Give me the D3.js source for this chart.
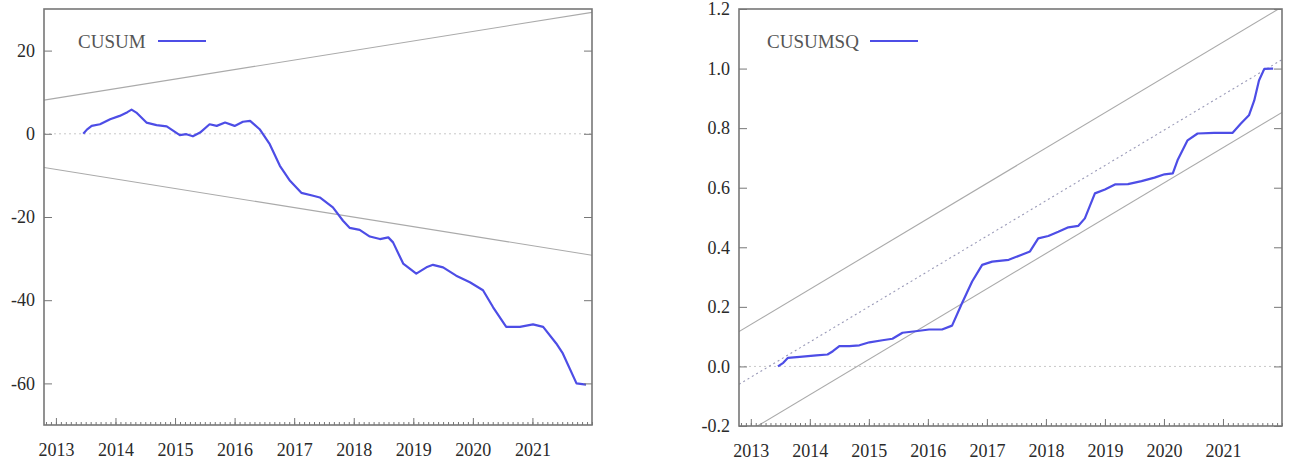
<!DOCTYPE html>
<html>
<head>
<meta charset="utf-8">
<script src="https://cdn.jsdelivr.net/npm/d3@7"></script>
<style>
body { margin: 0; background: #fff; }
svg text { font-family: "Liberation Serif", "Times New Roman", serif !important; }
</style>
</head>
<body>
<script>
// decimal years
let cusumYears = [2013.46, 2013.52, 2013.60, 2013.74, 2013.91, 2014.07, 2014.20, 2014.27, 2014.35, 2014.52,
  2014.69, 2014.86, 2015.08, 2015.19, 2015.30, 2015.42, 2015.58, 2015.70, 2015.84, 2016.00,
  2016.14, 2016.26, 2016.42, 2016.59, 2016.76, 2016.93, 2017.12, 2017.32, 2017.43, 2017.65,
  2017.82, 2017.93, 2018.10, 2018.27, 2018.44, 2018.58, 2018.66, 2018.83, 2019.05, 2019.22,
  2019.33, 2019.50, 2019.72, 2019.95, 2020.17, 2020.34, 2020.56, 2020.79, 2021.01, 2021.18,
  2021.40, 2021.51, 2021.74, 2021.90]
let cusumValues = [0, 1.0, 1.9, 2.3, 3.5, 4.3, 5.2, 5.8, 5.1, 2.7,
  2.1, 1.8, -0.3, -0.1, -0.6, 0.3, 2.3, 1.9, 2.7, 1.9,
  2.9, 3.1, 1.1, -2.5, -7.7, -11.3, -14.2, -14.9, -15.3, -17.7,
  -20.9, -22.6, -23.1, -24.7, -25.3, -24.9, -26.1, -31.2, -33.6, -32.1,
  -31.5, -32.1, -34.1, -35.7, -37.6, -41.7, -46.4, -46.4, -45.8, -46.4,
  -50.4, -52.8, -60.0, -60.3]

let sqYears = [2013.46, 2013.55, 2013.63, 2013.83, 2014.11, 2014.30, 2014.39, 2014.50, 2014.67, 2014.84,
  2015.01, 2015.23, 2015.40, 2015.57, 2015.79, 2016.02, 2016.24, 2016.41, 2016.58, 2016.75,
  2016.92, 2017.09, 2017.37, 2017.59, 2017.73, 2017.87, 2018.04, 2018.21, 2018.38, 2018.55,
  2018.66, 2018.83, 2019.00, 2019.17, 2019.39, 2019.62, 2019.84, 2020.01, 2020.15, 2020.23,
  2020.40, 2020.57, 2020.85, 2021.16, 2021.30, 2021.44, 2021.53, 2021.61, 2021.70, 2021.85]
let sqValues = [0.000, 0.012, 0.029, 0.032, 0.037, 0.040, 0.051, 0.068, 0.068, 0.071,
  0.081, 0.088, 0.093, 0.113, 0.118, 0.124, 0.124, 0.137, 0.213, 0.285,
  0.341, 0.352, 0.358, 0.375, 0.386, 0.430, 0.438, 0.452, 0.467, 0.472,
  0.497, 0.581, 0.594, 0.611, 0.612, 0.622, 0.634, 0.645, 0.648, 0.692,
  0.759, 0.782, 0.784, 0.784, 0.815, 0.843, 0.893, 0.960, 0.999, 1.000]

// 5% significance lines, given at the two ends of the x range
let boundYears = [2012.8, 2022.0]
let cusumUpper = [8.1, 29.2]
let cusumLower = [-8.1, -29.2]
let sqUpper = [0.117, 1.207]
let sqMid = [-0.06, 1.03]
let sqLower = [-0.237, 0.853]

let yearTicks = [2013, 2014, 2015, 2016, 2017, 2018, 2019, 2020, 2021]
let cusumTicks = [-60, -40, -20, 0, 20]
let sqTicks = [-0.2, 0.0, 0.2, 0.4, 0.6, 0.8, 1.0, 1.2]

let monthTicks = d3.range(2012 * 12 + 10, 2022 * 12 + 1).map(m => m / 12)

let svg = d3.select("body")
.append("svg")
.attr("width", 1290)
.attr("height", 465)

function drawPanel(p) {
    let x = d3.scaleLinear().domain([2012.8, 2022.0]).range([p.left, p.right])
    let y = d3.scaleLinear().domain(p.yDomain).range([p.bottom, p.top])
    let g = svg.append("g")

    g.append("clipPath").attr("id", p.id)
    .append("rect")
    .attr("x", p.left).attr("y", p.top)
    .attr("width", p.right - p.left).attr("height", p.bottom - p.top)

    let plot = g.append("g").attr("clip-path", `url(#${p.id})`)

    // zero reference
    plot.append("line")
    .attr("x1", p.left).attr("x2", p.right)
    .attr("y1", y(0)).attr("y2", y(0))
    .attr("stroke", "#c8c8c8")
    .attr("stroke-dasharray", "2,3")

    let line = d3.line().x(d => x(d[0])).y(d => y(d[1]))

    p.bounds.forEach(b => {
        plot.append("path")
        .datum(boundYears.map((t, i) => [t, b.values[i]]))
        .attr("d", line)
        .attr("fill", "none")
        .attr("stroke", b.color)
        .attr("stroke-width", 1.1)
        .attr("stroke-dasharray", b.dash || null)
    })

    plot.append("path")
    .datum(p.years.map((t, i) => [t, p.values[i]]))
    .attr("d", line)
    .attr("fill", "none")
    .attr("stroke", "#4d4de6")
    .attr("stroke-width", 2.2)
    .attr("stroke-linejoin", "round")

    // axes, ticks pointing inward
    g.append("g")
    .attr("transform", `translate(0,${p.bottom})`)
    .call(d3.axisBottom(x).tickValues(yearTicks).tickFormat(d3.format("d")).tickSize(-7).tickPadding(18))
    g.append("g")
    .attr("transform", `translate(0,${p.bottom})`)
    .call(d3.axisBottom(x).tickValues(monthTicks).tickFormat("").tickSize(-3))

    g.append("g")
    .attr("transform", `translate(${p.left},0)`)
    .call(d3.axisLeft(y).tickValues(p.yTicks).tickFormat(p.yFormat).tickSize(-8).tickPadding(9))
    g.append("g")
    .attr("transform", `translate(${p.right},0)`)
    .call(d3.axisRight(y).tickValues(p.yTicks).tickFormat("").tickSize(-8))

    g.selectAll(".domain").remove()
    g.selectAll(".tick line").attr("stroke", "#777")
    g.selectAll(".tick text")
    .style("font-size", "18px")
    .attr("fill", "#2a2a2a")

    g.append("rect")
    .attr("x", p.left).attr("y", p.top)
    .attr("width", p.right - p.left).attr("height", p.bottom - p.top)
    .attr("fill", "none")
    .attr("stroke", "#777")
    .attr("stroke-width", 1.6)

    // legend
    g.append("text")
    .attr("x", p.legendX).attr("y", 48)
    .style("font-size", "19px")
    .attr("fill", "#555")
    .text(p.name)
    g.append("line")
    .attr("x1", p.legendLine[0]).attr("x2", p.legendLine[1])
    .attr("y1", 41).attr("y2", 41)
    .attr("stroke", "#4d4de6")
    .attr("stroke-width", 2.2)
}

drawPanel({
    id: "clipL", name: "CUSUM",
    left: 44, right: 592, top: 9, bottom: 425,
    yDomain: [-70, 30], yTicks: cusumTicks, yFormat: d => String(d),
    years: cusumYears, values: cusumValues,
    bounds: [
        {values: cusumUpper, color: "#aaa"},
        {values: cusumLower, color: "#aaa"},
    ],
    legendX: 78, legendLine: [158, 206],
})

drawPanel({
    id: "clipR", name: "CUSUMSQ",
    left: 739, right: 1282, top: 9, bottom: 426,
    yDomain: [-0.2, 1.2], yTicks: sqTicks, yFormat: d => d.toFixed(1),
    years: sqYears, values: sqValues,
    bounds: [
        {values: sqUpper, color: "#aaa"},
        {values: sqMid, color: "#9a9ab8", dash: "2,3"},
        {values: sqLower, color: "#aaa"},
    ],
    legendX: 767, legendLine: [870, 918],
})
</script>
</body>
</html>
